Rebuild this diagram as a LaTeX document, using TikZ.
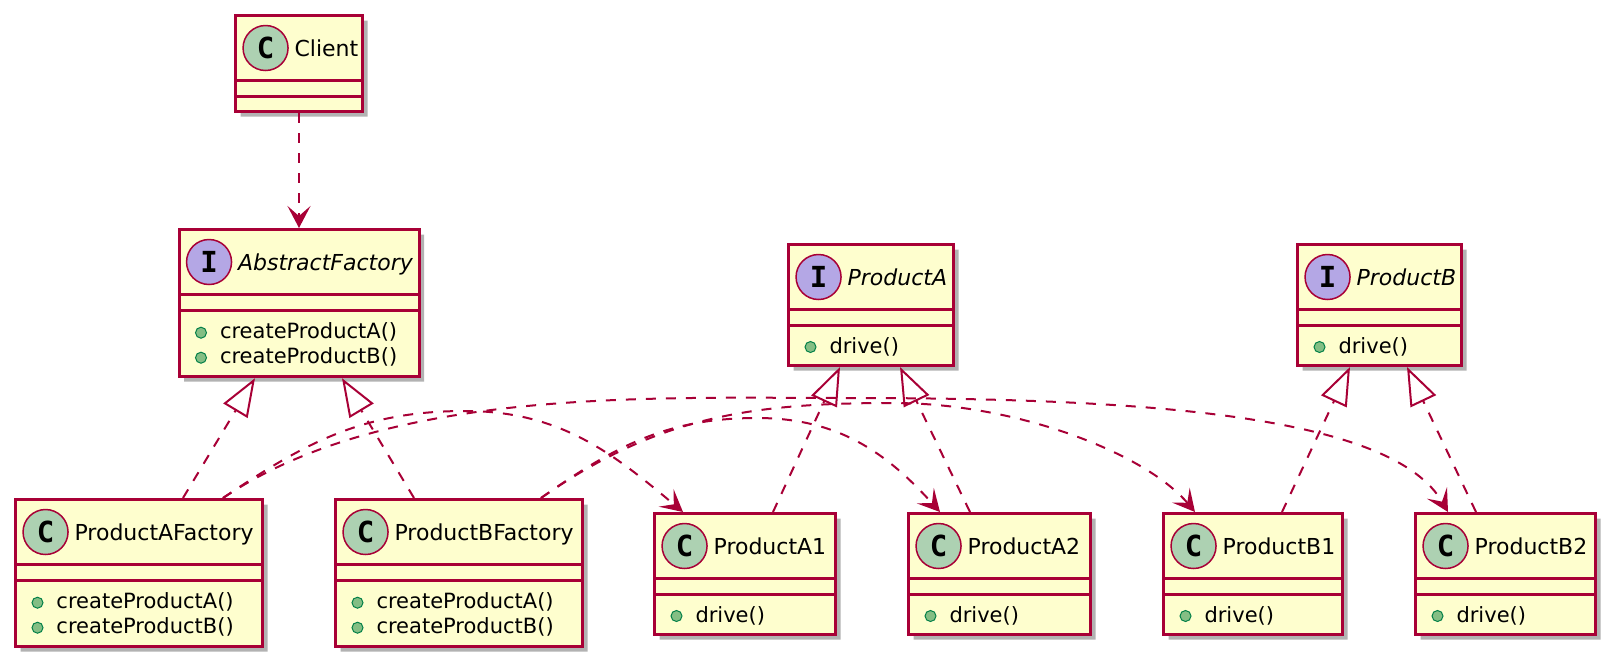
\documentclass[tikz,border=0pt]{standalone}
\usepackage{fontspec}
\setmainfont{DejaVu Sans}
\newfontfamily\iconfont{DejaVu Sans Mono}
\usepackage{tikz}
\usetikzlibrary{arrows.meta, positioning, shapes.multipart, shadows}

\definecolor{umlred}{HTML}{A80036}
\definecolor{umlfill}{HTML}{FEFECE}
\definecolor{cgreen}{HTML}{ADD1B2}
\definecolor{ipurple}{HTML}{B4A7E5}
\definecolor{pubfill}{HTML}{84BE84}
\definecolor{publine}{HTML}{038048}

% class header: circled letter + name
\newcommand{\clsicon}[2]{%
  \tikz[baseline=-4pt]\node[circle, anchor=center, draw=umlred, line width=0.75pt, fill=#2, minimum size=22.5pt, inner sep=0pt, text=black, font=\iconfont\bfseries\fontsize{14.5pt}{15pt}\selectfont] {#1};}
\newcommand{\chead}[3]{%
  \hspace*{3.4pt}\clsicon{#1}{#2}\hspace*{2.9pt}{\fontsize{11pt}{13pt}\selectfont #3}\rule[-11.25pt]{0pt}{30.75pt}}
% public method marker
\newcommand{\pubdot}{%
  \tikz[baseline=-3pt]\draw[draw=publine, fill=pubfill, line width=0.5pt] (0,0) circle (2.75pt);}
\newcommand{\meth}[1]{\hspace*{8pt}\pubdot\hspace*{6.5pt}#1}

\begin{document}
\begin{tikzpicture}[
    x=0.5pt, y=0.5pt,
    node distance=35pt,
    cls/.style={rectangle split, rectangle split parts=3, rectangle split part align={left}, draw=umlred, fill=umlfill, line width=1.5pt, inner xsep=0pt, inner ysep=0pt, anchor=north, font=\fontsize{10.5pt}{12.5pt}\selectfont, drop shadow={shadow xshift=2.5pt, shadow yshift=-2.5pt, fill=black!60, opacity=0.5}},
    dep/.style={draw=umlred, line width=1pt, dash pattern=on 5pt off 5pt, -{Stealth[length=11pt, width=11.5pt, inset=5pt]}},
    realize/.style={draw=umlred, line width=1pt, dash pattern=on 5pt off 5pt, -{Triangle[open, length=19pt, width=14pt]}}
]
\useasboundingbox (0,0) rectangle (1622,-671);

% Top: client and abstract factory
\node[cls, minimum width=63.5pt] (client) at (299,-14) {\chead{C}{cgreen}{Client}\nodepart{two}\rule{0pt}{6.5pt}\nodepart{three}\rule{0pt}{6.25pt}};
\node[cls, minimum width=120pt, below=57.5pt of client] (af) {\chead{I}{ipurple}{\itshape AbstractFactory}\nodepart{two}\rule{0pt}{6.5pt}\nodepart{three}\begin{tabular}{@{}l@{}}\rule{0pt}{13.6pt}\meth{createProductA()}\\\meth{createProductB()}\rule[-5.75pt]{0pt}{0pt}\end{tabular}};

% Product interfaces
\node[cls, minimum width=82.5pt] (pa) at (871,-243) {\chead{I}{ipurple}{\itshape ProductA}\nodepart{two}\rule{0pt}{6.5pt}\nodepart{three}\meth{drive()}\rule[-5.5pt]{0pt}{18.75pt}};
\node[cls, minimum width=82pt] (pb) at (1379.5,-243) {\chead{I}{ipurple}{\itshape ProductB}\nodepart{two}\rule{0pt}{6.5pt}\nodepart{three}\meth{drive()}\rule[-5.5pt]{0pt}{18.75pt}};

% Concrete factories
\node[cls, minimum width=123.5pt] (paf) at (139,-498) {\chead{C}{cgreen}{ProductAFactory}\nodepart{two}\rule{0pt}{6.5pt}\nodepart{three}\begin{tabular}{@{}l@{}}\rule{0pt}{13.6pt}\meth{createProductA()}\\\meth{createProductB()}\rule[-5.75pt]{0pt}{0pt}\end{tabular}};
\node[cls, minimum width=123.5pt, right=of paf] (pbf) {\chead{C}{cgreen}{ProductBFactory}\nodepart{two}\rule{0pt}{6.5pt}\nodepart{three}\begin{tabular}{@{}l@{}}\rule{0pt}{13.6pt}\meth{createProductA()}\\\meth{createProductB()}\rule[-5.75pt]{0pt}{0pt}\end{tabular}};

% Concrete products
\node[cls, minimum width=90.5pt] (a1) at (745,-512) {\chead{C}{cgreen}{ProductA1}\nodepart{two}\rule{0pt}{6.5pt}\nodepart{three}\meth{drive()}\rule[-5.5pt]{0pt}{18.75pt}};
\node[cls, minimum width=91pt, right=of a1] (a2) {\chead{C}{cgreen}{ProductA2}\nodepart{two}\rule{0pt}{6.5pt}\nodepart{three}\meth{drive()}\rule[-5.5pt]{0pt}{18.75pt}};
\node[cls, minimum width=89.5pt, right=of a2] (b1) {\chead{C}{cgreen}{ProductB1}\nodepart{two}\rule{0pt}{6.5pt}\nodepart{three}\meth{drive()}\rule[-5.5pt]{0pt}{18.75pt}};
\node[cls, minimum width=90pt, right=of b1] (b2) {\chead{C}{cgreen}{ProductB2}\nodepart{two}\rule{0pt}{6.5pt}\nodepart{three}\meth{drive()}\rule[-5.5pt]{0pt}{18.75pt}};

% Uses
\draw[dep] (client) -- (af);

% Realizations
\draw[realize] ([xshift=22pt]paf.north) -- ([xshift=-22pt]af.south);
\draw[realize] ([xshift=-22.5pt]pbf.north) -- ([xshift=21.5pt]af.south);
\draw[realize] ([xshift=14pt]a1.north) -- ([xshift=-15.5pt]pa.south);
\draw[realize] ([xshift=-14.75pt]a2.north) -- ([xshift=14.5pt]pa.south);
\draw[realize] ([xshift=14.5pt]b1.north) -- ([xshift=-14.75pt]pb.south);
\draw[realize] ([xshift=-14.75pt]b2.north) -- ([xshift=13.75pt]pb.south);

% Factories create products
\draw[dep] ([xshift=42pt]paf.north) to[out=34, in=180] (465,-411) to[out=0, in=140] ([xshift=-31pt]a1.north);
\draw[dep] ([xshift=42pt]paf.north) to[out=34, in=180, looseness=0.8] (850,-398) to[out=0, in=120, out looseness=1.3, in looseness=0.46] ([xshift=-28.75pt]b2.north);
\draw[dep] ([xshift=41pt]pbf.north) to[out=35, in=180] (757,-418) to[out=0, in=132] ([xshift=-29.75pt]a2.north);
\draw[dep] ([xshift=41pt]pbf.north) to[out=35, in=180] (893,-403) to[out=0, in=130, in looseness=0.6] ([xshift=-29pt]b1.north);

\end{tikzpicture}
\end{document}
